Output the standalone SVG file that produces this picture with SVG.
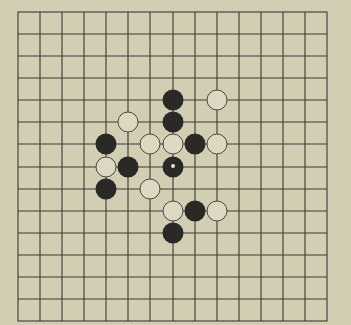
<svg xmlns="http://www.w3.org/2000/svg" width="351" height="325" viewBox="0 0 351 325">
<style>
.g{stroke:#3b3a35;stroke-width:1.1;fill:none}
.b{fill:#2b2925}
.w{fill:#dcd8c2;stroke:#4a4840;stroke-width:1}
</style>
<rect width="351" height="325" fill="#d2ceb4"/>
<g id="grid" class="g">
<rect x="18" y="12" width="309" height="309"/>
<path d="M40 12V321M62 12V321M84 12V321M106 12V321M128 12V321M150 12V321M173 12V321M195 12V321M217 12V321M239 12V321M261 12V321M283 12V321M305 12V321"/>
<path d="M18 34H327M18 56H327M18 78H327M18 100H327M18 122H327M18 144H327M18 167H327M18 189H327M18 211H327M18 233H327M18 255H327M18 277H327M18 299H327"/>
</g>
<g id="stones">
<g id="s1"><circle class="b" cx="173" cy="100" r="10.5"/></g>
<g id="s2"><circle class="w" cx="217" cy="100" r="10"/></g>
<g id="s3"><circle class="w" cx="128" cy="122" r="10"/></g>
<g id="s4"><circle class="b" cx="173" cy="122" r="10.5"/></g>
<g id="s5"><circle class="b" cx="106" cy="144" r="10.5"/></g>
<g id="s6"><circle class="w" cx="150" cy="144" r="10"/></g>
<g id="s7"><circle class="w" cx="173" cy="144" r="10"/></g>
<g id="s8"><circle class="b" cx="195" cy="144" r="10.5"/></g>
<g id="s9"><circle class="w" cx="217" cy="144" r="10"/></g>
<g id="s10"><circle class="w" cx="106" cy="167" r="10"/></g>
<g id="s11"><circle class="b" cx="128" cy="167" r="10.5"/></g>
<g id="s12"><circle class="b" cx="173" cy="167" r="10.5"/><circle cx="173" cy="166" r="2" fill="#e6e2cc"/></g>
<g id="s13"><circle class="b" cx="106" cy="189" r="10.5"/></g>
<g id="s14"><circle class="w" cx="150" cy="189" r="10"/></g>
<g id="s15"><circle class="w" cx="173" cy="211" r="10"/></g>
<g id="s16"><circle class="b" cx="195" cy="211" r="10.5"/></g>
<g id="s17"><circle class="w" cx="217" cy="211" r="10"/></g>
<g id="s18"><circle class="b" cx="173" cy="233" r="10.5"/></g>
</g>
</svg>
